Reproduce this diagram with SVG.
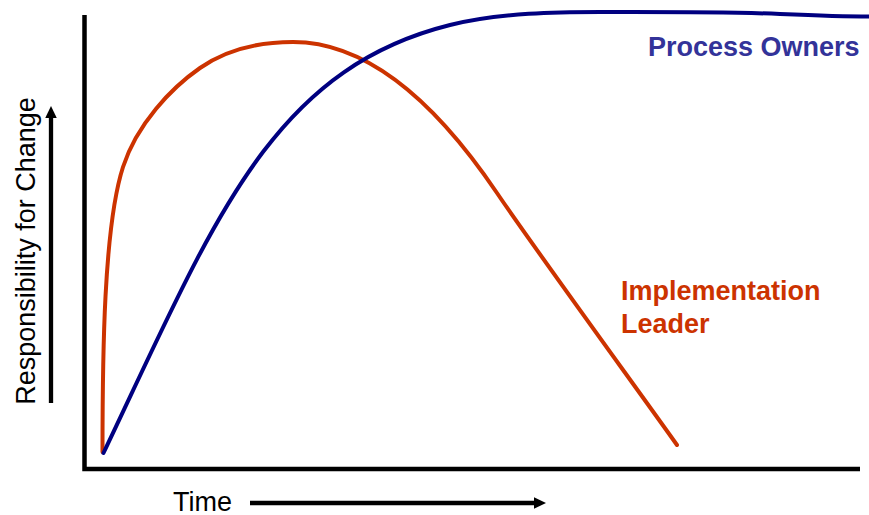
<svg xmlns="http://www.w3.org/2000/svg" width="869" height="515" viewBox="0 0 869 515">
<style>
.axis{fill:none;stroke:#000;stroke-width:4.5;stroke-linejoin:miter}
.arrow{stroke:#000;stroke-width:4.3;fill:none}
.curve{fill:none;stroke-width:4;stroke-linecap:round;stroke-linejoin:round}
.lbl{font-family:"Liberation Sans",Arial,sans-serif;font-size:27px}
.bold{font-weight:bold}
</style>
<defs>
<marker id="head" markerUnits="userSpaceOnUse" markerWidth="13" markerHeight="12" refX="0" refY="5.75" orient="auto">
<path d="M0,0 L12,5.75 L0,11.5 z" fill="#000"/>
</marker>
</defs>
<rect width="869" height="515" fill="#fff"/>
<g id="axes">
<path class="axis" d="M84.5,15 V469 H860"/>
</g>
<g id="connectors">
<line class="arrow" x1="51" y1="403" x2="51" y2="118" marker-end="url(#head)"/>
<line class="arrow" x1="250" y1="503" x2="534" y2="503" marker-end="url(#head)"/>
</g>
<g id="implementation-leader-curve">
<path class="curve" stroke="#CC3300" d="M102.5,452 C102.5,357 103.7,227 123,167 C136.8,124.2 171.2,88 200,68 C228.8,48 260,42 293,42 C361,42 429,92.3 497,193 C530,242 640,393 677,445"/>
</g>
<g id="process-owners-curve">
<path class="curve" stroke="#000080" d="M103.5,453 C213.5,222 270,70 450,25 C500,12.5 560,12 600,12 C640,12 720,11.5 780,14 S850,16.5 869,16.5"/>
</g>
<g id="y-label">
<text class="lbl" transform="translate(35,251) rotate(-90)" text-anchor="middle">Responsibility for Change</text>
</g>
<g id="x-label">
<text class="lbl" x="173" y="510.5">Time</text>
</g>
<g id="process-owners">
<text class="lbl bold" x="648" y="55.5" fill="#333399">Process Owners</text>
</g>
<g id="implementation-leader">
<text class="lbl bold" fill="#CC3300"><tspan x="621" y="300">Implementation</tspan><tspan x="621" y="333">Leader</tspan></text>
</g>
</svg>
